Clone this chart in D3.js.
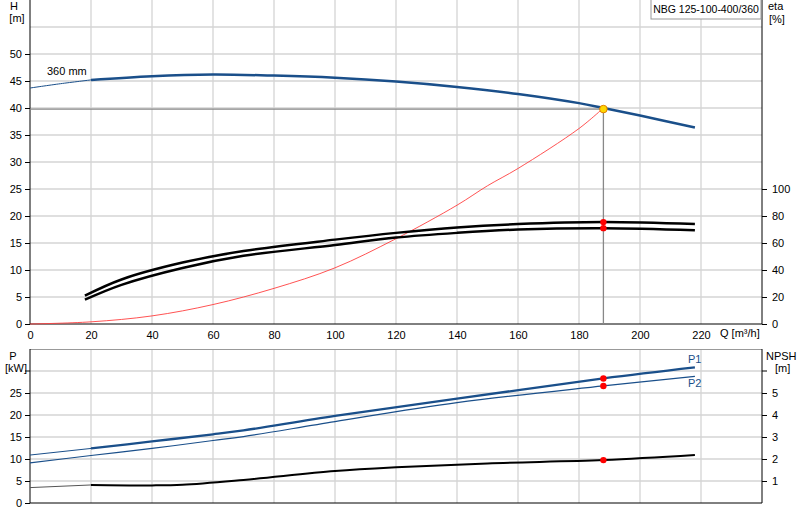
<!DOCTYPE html><html><head><meta charset="utf-8"><script src="https://cdn.jsdelivr.net/npm/d3@7"></script>
<style>body{margin:0;background:#fff}svg{font-family:"Liberation Sans",Arial,sans-serif;font-size:11px}</style></head><body><svg id="c" width="800" height="520"></svg>
<script>
const hThinQ=[0,10,20], hThin=[43.7,44.5,45.2];
const hQ=[20,40,60,80,100,120,140,160,180,188,200,218];
const hH=[45.2,45.9,46.2,46.0,45.6,44.9,43.9,42.6,40.9,40.0,38.6,36.4];
const sysQ=[0,20,40,60,80,100,120,140,150,160,180,188];
const sysH=[0,0.4,1.5,3.6,6.6,10.4,15.8,22,25.6,28.8,36.2,40];
const etaQ=[18,30,50,70,100,120,140,160,188,218];
const eta1=[21,33,45.5,54,62.5,67.5,71.5,74,75.5,74];
const eta2=[18,29,41.5,50.5,58.5,64,67.5,70,71,69.5];
const pQ=[0,20,40,60,70,100,140,188,218];
const p1=[10.9,12.4,14,15.6,16.5,19.8,23.7,28.3,30.8];
const p2=[9.1,10.8,12.4,14.2,15.1,18.5,22.8,26.6,28.8];
const nQ=[0,20,40,50,70,100,120,150,188,218];
const npsh=[0.7,0.82,0.8,0.83,1.05,1.45,1.62,1.8,1.95,2.18];
const duty={q:188,h:39.8,e1:75.5,e2:71,p1:28.3,p2:26.6,n:1.95};
const xTicks=[0,20,40,60,80,100,120,140,160,180,200,220];
const hTicks=[0,5,10,15,20,25,30,35,40,45,50];
const eTicks=[0,20,40,60,80,100];
const pTicks=[0,5,10,15,20,25];
const nTicks=[1,2,3,4,5];

const svg=d3.select("#c"), L=30,R=762, blue="#1a4f8a", grid="#d4d4d4";
const x=d3.scaleLinear().domain([0,240]).range([L,R]);
const yH=d3.scaleLinear().domain([0,60]).range([324,0]);
const yE=d3.scaleLinear().domain([0,120]).range([324,162]);
const yP=d3.scaleLinear().domain([0,35]).range([503,349]);
const yN=d3.scaleLinear().domain([0,7]).range([503,349]);
const line=(xs,ys,sy)=>d3.line().curve(d3.curveCatmullRom)(xs.map((q,i)=>[x(q),sy(ys[i])]));
function grids(sy,vals,top,bot){
 const g=svg.append("g").attr("stroke",grid).attr("stroke-width",1.3);
 vals.forEach(v=>g.append("line").attr("x1",L).attr("x2",R).attr("y1",sy(v)).attr("y2",sy(v)));
 d3.range(20,240,20).forEach(v=>g.append("line").attr("x1",x(v)).attr("x2",x(v)).attr("y1",top).attr("y2",bot));
}
grids(yH,[5,10,15,20,25,30,35,40,45,50,55],0,324);
grids(yP,[5,10,15,20,25,30],349,503);
svg.append("line").attr("x1",L).attr("x2",R).attr("y1",349.5).attr("y2",349.5).attr("stroke","#999");
svg.append("g").attr("transform",`translate(${L},0)`).call(d3.axisLeft(yH).tickValues(hTicks).tickSize(5).tickPadding(3)).call(g=>g.select(".domain").attr("d","M0,0V324"));
svg.append("g").attr("transform",`translate(${R},0)`).call(d3.axisRight(yE).tickValues(eTicks).tickSize(5).tickPadding(5)).call(g=>g.select(".domain").attr("d","M0,0V324"));
svg.append("g").attr("transform","translate(0,324)").call(d3.axisBottom(x).tickValues(xTicks).tickSize(0).tickPadding(7)).call(g=>g.select(".domain").attr("d",`M${L},0H${R}`));
svg.append("g").attr("transform",`translate(${L},0)`).call(d3.axisLeft(yP).tickValues(pTicks).tickSize(5).tickPadding(3)).call(g=>g.select(".domain").attr("d","M0,349V503"));
svg.append("line").attr("x1",L-5).attr("x2",L).attr("y1",yP(30)).attr("y2",yP(30)).attr("stroke","#000");
svg.append("g").attr("transform",`translate(${R},0)`).call(d3.axisRight(yN).tickValues(nTicks).tickFormat(d3.format("d")).tickSize(5).tickPadding(5)).call(g=>g.select(".domain").attr("d","M0,349V503"));
svg.append("line").attr("x1",R).attr("x2",R+5).attr("y1",yN(6)).attr("y2",yN(6)).attr("stroke","#000");
svg.append("line").attr("x1",L).attr("x2",R).attr("y1",503).attr("y2",503).attr("stroke","#000");
svg.selectAll(".tick text").attr("font-size",11).attr("fill","#000");
svg.append("line").attr("x1",L).attr("x2",x(duty.q)).attr("y1",yH(duty.h)).attr("y2",yH(duty.h)).attr("stroke","#888").attr("stroke-width",1.3);
svg.append("line").attr("x1",x(duty.q)).attr("x2",x(duty.q)).attr("y1",yH(duty.h)).attr("y2",324).attr("stroke","#888").attr("stroke-width",1.3);
const path=(d,c,w)=>svg.append("path").attr("d",d).attr("fill","none").attr("stroke",c).attr("stroke-width",w);
path(line(sysQ,sysH,yH),"#ff4040",0.9);
path(line(hThinQ,hThin,yH),blue,1);
path(line(hQ,hH,yH),blue,2.5);
path(line(etaQ,eta1,yE),"#000",2.5);
path(line(etaQ,eta2,yE),"#000",2.5);
path(line(pQ.slice(0,2),p1.slice(0,2),yP),blue,1);
path(line(pQ.slice(1),p1.slice(1),yP),blue,2.3);
path(line(pQ,p2,yP),blue,1.2);
path(line(nQ.slice(0,2),npsh.slice(0,2),yN),"#555",1);
path(line(nQ.slice(1),npsh.slice(1),yN),"#000",2);
const dot=(cx,cy,f,r)=>svg.append("circle").attr("cx",cx).attr("cy",cy).attr("r",r).attr("fill",f).attr("stroke",f=="#ffd700"?"#e08000":"none");
dot(x(duty.q),yE(duty.e1),"#f00",3.2);dot(x(duty.q),yE(duty.e2),"#f00",3.2);
dot(x(duty.q),yH(duty.h),"#ffd700",3.8);
dot(x(duty.q),yP(duty.p1),"#f00",3.2);dot(x(duty.q),yP(duty.p2),"#f00",3.2);dot(x(duty.q),yN(duty.n),"#f00",3.2);
const t=(s,tx,ty,c="#000",a="start")=>svg.append("text").attr("x",tx).attr("y",ty).attr("fill",c).attr("text-anchor",a).text(s);
t("H",14,10,"#000","middle");t("[m]",17,22,"#000","middle");
t("eta",768,10);t("[%]",769,23);
t("360 mm",47,75);
t("Q [m³/h]",720,337);
t("P",13,360,"#000","middle");t("[kW]",16,372,"#000","middle");
t("NPSH",766,360);t("[m]",775,372);
t("P1",688,363,blue);t("P2",688,387,blue);
svg.append("rect").attr("x",651).attr("y",-1).attr("width",110).attr("height",20).attr("fill","#fff").attr("stroke","#999");
t("NBG 125-100-400/360",706,13,"#000","middle").attr("font-size",10.5);
</script></body></html>
